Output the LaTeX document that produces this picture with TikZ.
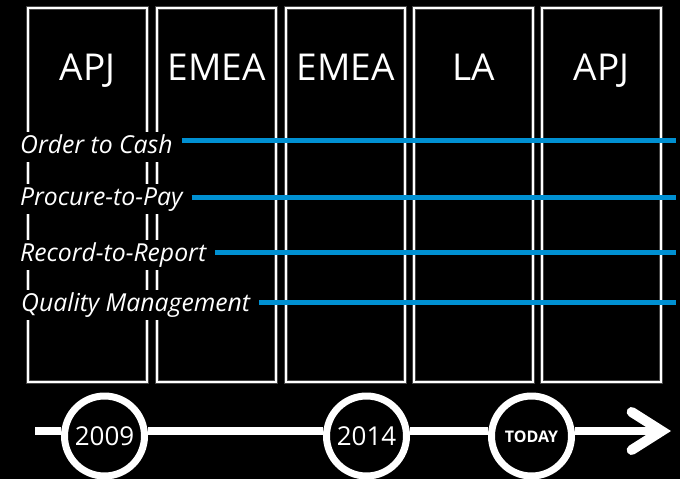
\documentclass[tikz,border=0pt]{standalone}
\usepackage{fontspec}
\setmainfont{Open Sans}
\usetikzlibrary{arrows.meta,positioning}
\definecolor{flowblue}{RGB}{0,144,210}
\tikzset{
 region/.style={draw=gray!55!black, double=white, double distance=1.4pt, line width=1.4pt,
   minimum width=119pt, minimum height=374pt, anchor=north west, inner sep=0pt, outer sep=0pt},
 regname/.style={text=white, font=\fontsize{37}{37}\selectfont, text height=26pt, text depth=0pt, inner sep=0pt},
 process/.style={fill=black, text=white, font=\itshape\fontsize{24.75}{25}\selectfont,
   anchor=base west, inner xsep=4pt, inner ysep=4pt, text height=17pt, text depth=5pt},
 flow/.style={draw=flowblue, line width=5pt, shorten <=5pt},
 year/.style={circle, draw=white, fill=black, line width=7pt, minimum size=80pt, inner sep=0pt,
   text=white, font=\fontsize{26}{26}\selectfont, text height=18pt, text depth=0pt},
 axis/.style={draw=white, line width=8pt}
}

\begin{document}
\begin{tikzpicture}[x=1pt,y=-1pt]

\fill[black] (0,0) rectangle (680,479);
\useasboundingbox (0,0) rectangle (680,479);

% regions
\foreach \x/\r [count=\i] in {28/APJ,157/EMEA,286/EMEA,414/LA,542/APJ} {
  \path (\x,8) node[region,name=r\i] {};
  \path (r\i.north)+(0,59) node[regname,name=n\i] {\r};
}

% processes
\path (16,153) node[process,name=p1] {Order to Cash};
\path (16,205) node[process,name=p2] {Procure-to-Pay};
\path (16,261) node[process,name=p3] {Record-to-Report};
\path (17,311) node[process,name=p4] {Quality Management};

\coordinate (e1) at (676,140);
\coordinate (e2) at (676,197);
\coordinate (e3) at (676,252);
\coordinate (e4) at (676,302);

\foreach \i in {1,...,4}
  \draw[flow] (p\i.east |- e\i) -- (e\i);

% timeline
\coordinate (tstart) at (35,431);
\coordinate (tend) at (671,431);

\path (104.5,436) node[year,name=y1] {2009};
\path (366.5,436) node[year,name=y2] {2014};
\path (531.5,436) node[year,name=y3,font=\bfseries\fontsize{16}{16}\selectfont,text height=12pt] {TODAY};

\draw[axis] (tstart) -- (y1.west |- tstart);
\draw[axis] (y1.east |- tstart) -- (y2.west |- tstart);
\draw[axis] (y2.east |- tstart) -- (y3.west |- tstart);
\draw[axis,-{Straight Barb[length=30pt,width=38pt,line width=10pt,line cap=round,line join=miter]}]
  (y3.east |- tstart) -- (tend);

\end{tikzpicture}
\end{document}
